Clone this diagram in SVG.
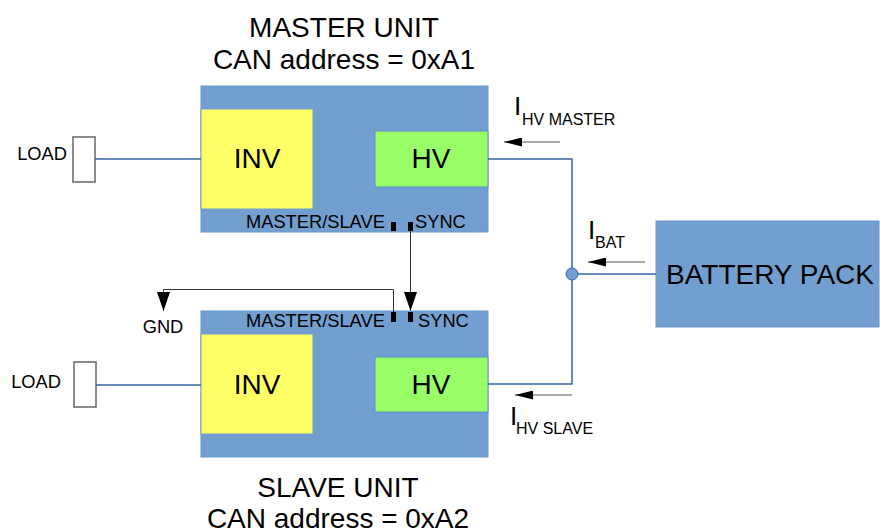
<svg xmlns="http://www.w3.org/2000/svg" width="880" height="532" viewBox="0 0 880 532">
<defs>
<style>
text{font-family:"Liberation Sans",Arial,sans-serif;fill:#000}
.title{font-size:28px;text-anchor:middle}
.big{font-size:28px;text-anchor:middle}
.sm{font-size:18.3px}
.sub{font-size:16px}
.unit{fill:#729fcf;stroke:#6d98c9;stroke-width:1}
.inv{fill:#ffff66;stroke:#729fcf;stroke-width:1}
.hv{fill:#99ff66;stroke:#5f8fc4;stroke-width:1}
.pin{fill:#000}
.load{fill:#fff;stroke:#666;stroke-width:1.5}
.wire{fill:none;stroke:#3465a4;stroke-width:1.5}
.sig{fill:none;stroke:#333;stroke-width:1}
.cur{fill:none;stroke:#555;stroke-width:1.2}
</style>
<marker id="ahBig" markerUnits="userSpaceOnUse" markerWidth="19" markerHeight="13" viewBox="0 0 19 13" refX="19" refY="6.5" orient="auto"><path d="M0,0 L19,6.5 L0,13 z" fill="#000"/></marker>
<marker id="ahSmall" markerUnits="userSpaceOnUse" markerWidth="18" markerHeight="9" viewBox="0 0 18 9" refX="18" refY="4.5" orient="auto"><path d="M0,0 L18,4.5 L0,9 z" fill="#000"/></marker>
</defs>
<rect width="880" height="532" fill="#fff"/>

<g id="master-unit">
<text class="title" x="344" y="37">MASTER UNIT</text>
<text class="title" x="344" y="69">CAN address = 0xA1</text>
<rect class="unit" x="201" y="86" width="287" height="146"/>
<text class="sm" x="246" y="228">MASTER/SLAVE</text>
<text class="sm" x="415" y="228">SYNC</text>
<rect class="pin" x="391" y="222" width="5" height="9"/>
<rect class="pin" x="408" y="222" width="5" height="9"/>
</g>
<g id="master-inv">
<rect class="inv" x="201" y="109" width="112" height="100"/>
<text class="big" x="257" y="168">INV</text>
</g>
<g id="master-hv">
<rect class="hv" x="375" y="131" width="113" height="56"/>
<text class="big" x="431" y="168">HV</text>
</g>

<g id="slave-unit">
<rect class="unit" x="201" y="311" width="287" height="146"/>
<text class="sm" x="246" y="327">MASTER/SLAVE</text>
<text class="sm" x="418" y="327">SYNC</text>
<rect class="pin" x="391" y="312" width="5" height="10"/>
<rect class="pin" x="408" y="312" width="5" height="10"/>
<text class="title" x="338" y="497">SLAVE UNIT</text>
<text class="title" x="338" y="528">CAN address = 0xA2</text>
</g>
<g id="slave-inv">
<rect class="inv" x="201" y="334" width="112" height="100"/>
<text class="big" x="257" y="394">INV</text>
</g>
<g id="slave-hv">
<rect class="hv" x="375" y="357" width="113" height="55"/>
<text class="big" x="431" y="394">HV</text>
</g>

<g id="load-master">
<rect class="load" x="73" y="137" width="22" height="45"/>
<text class="sm" x="67" y="160" text-anchor="end">LOAD</text>
</g>
<g id="load-slave">
<rect class="load" x="74" y="362" width="22" height="45"/>
<text class="sm" x="61" y="388" text-anchor="end">LOAD</text>
</g>

<g id="battery-pack">
<rect class="unit" x="656" y="221" width="223" height="106"/>
<text class="big" x="770" y="284">BATTERY PACK</text>
</g>

<g id="gnd">
<text class="sm" x="163" y="333" text-anchor="middle">GND</text>
</g>

<g id="connectors">
<path class="wire" d="M95,159 H201"/>
<path class="wire" d="M96,385 H201"/>
<path class="wire" d="M488,159 H572 V384 H488"/>
<path class="wire" d="M572,274 H656"/>
<circle cx="572" cy="274" r="6" fill="#729fcf" stroke="#3465a4" stroke-width="1"/>
<path class="sig" d="M410.5,231 V311" marker-end="url(#ahBig)"/>
<path class="sig" d="M393.5,312 V289.5 H163.5 V311" marker-end="url(#ahBig)"/>
<path class="cur" d="M560,142 H504" marker-end="url(#ahSmall)"/>
<path class="cur" d="M645,262 H588" marker-end="url(#ahSmall)"/>
<path class="cur" d="M572,395 H515" marker-end="url(#ahSmall)"/>
</g>

<g id="current-labels">
<text x="514" y="115"><tspan font-size="26">I</tspan><tspan class="sub" x="522" y="125">HV MASTER</tspan></text>
<text x="588" y="239"><tspan font-size="26">I</tspan><tspan class="sub" x="595" y="248">BAT</tspan></text>
<text x="510" y="425"><tspan font-size="26">I</tspan><tspan class="sub" x="516" y="434">HV SLAVE</tspan></text>
</g>
</svg>
